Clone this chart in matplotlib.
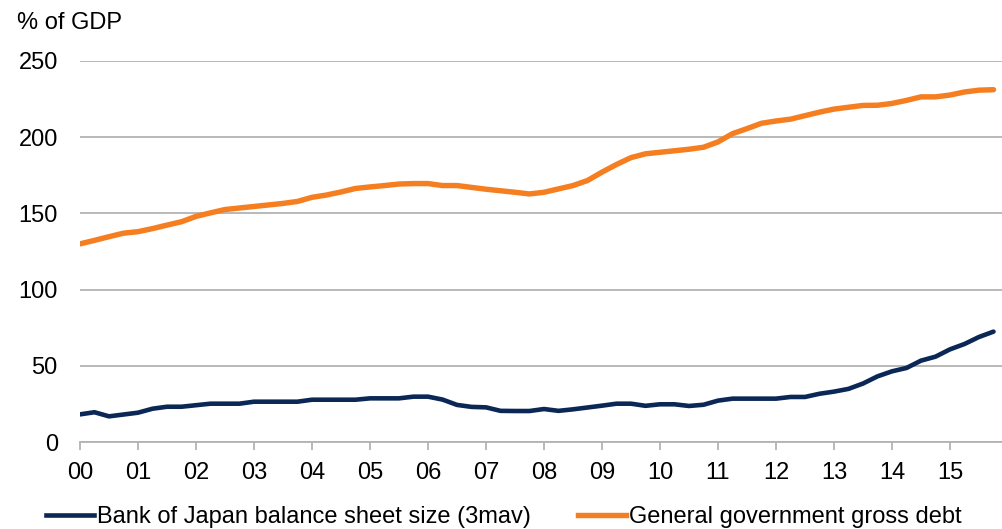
import numpy as np
import matplotlib.pyplot as plt
from matplotlib.lines import Line2D

# quarterly data, 2000Q1 - 2015Q4 (% of GDP)
quarters = np.arange(64) / 4.0

boj = [18.3, 19.7, 17.0, 18.2, 19.4, 22.0, 23.3, 23.3,
       24.3, 25.3, 25.3, 25.3, 26.6, 26.6, 26.6, 26.6,
       27.9, 27.9, 27.9, 27.9, 28.8, 28.8, 28.8, 29.9,
       29.9, 28.0, 24.5, 23.2, 22.9, 20.6, 20.5, 20.5,
       21.8, 20.6, 21.6, 22.8, 24.0, 25.3, 25.3, 23.9,
       24.9, 24.9, 23.8, 24.6, 27.3, 28.6, 28.6, 28.6,
       28.6, 29.7, 29.7, 31.8, 33.2, 35.0, 38.5, 43.2,
       46.5, 48.7, 53.5, 56.1, 60.9, 64.4, 69.0, 72.5]

debt = [130.0, 132.3, 134.7, 137.0, 138.0, 140.0, 142.3, 144.5,
        148.0, 150.3, 152.5, 153.5, 154.5, 155.5, 156.5, 157.8,
        160.5, 162.0, 164.0, 166.3, 167.3, 168.2, 169.2, 169.5,
        169.5, 168.2, 168.2, 167.0, 165.8, 164.8, 163.8, 162.7,
        163.8, 166.0, 168.2, 171.5, 177.0, 182.0, 186.5, 189.0,
        190.0, 191.0, 192.0, 193.3, 196.8, 202.2, 205.5, 209.0,
        210.5, 211.7, 214.0, 216.3, 218.3, 219.5, 220.7, 220.8,
        222.0, 224.0, 226.3, 226.3, 227.5, 229.5, 230.7, 231.0]

year_labels = ['00', '01', '02', '03', '04', '05', '06', '07',
               '08', '09', '10', '11', '12', '13', '14', '15']

series_names = ['Bank of Japan balance sheet size (3mav)',
                'General government gross debt']

navy = '#0A2756'
orange = '#F57E20'
fs = 17

plt.rcParams['font.family'] = ['Liberation Sans', 'DejaVu Sans']

fig = plt.figure(figsize=(10.02, 5.29), dpi=100)
ax = fig.add_axes([80 / 1002, 1 - 442.3 / 529, 928 / 1002, 381.6 / 529])

ax.plot(quarters, boj, color=navy, lw=3.3, solid_capstyle='round', solid_joinstyle='round')
ax.plot(quarters, debt, color=orange, lw=3.9, solid_capstyle='round', solid_joinstyle='round')

ax.set_xlim(0, 16)
ax.set_ylim(0, 250)
ax.set_yticks(range(0, 251, 50))
ax.set_xticks(range(len(year_labels)))
ax.set_xticklabels(year_labels)

ax.grid(axis='y', color='#b3b3b3', lw=1.3)
ax.set_axisbelow(True)
for s in ['top', 'right', 'left']:
    ax.spines[s].set_visible(False)
ax.spines['bottom'].set_color('#b3b3b3')
ax.spines['bottom'].set_linewidth(1.3)

ax.tick_params(axis='x', direction='out', length=5.5, width=1.3, color='#b3b3b3',
               labelsize=fs, pad=9)
ax.tick_params(axis='y', length=0, labelsize=fs, pad=16)

fig.text(17 / 1002, 1 - 23 / 529, '% of GDP', fontsize=fs, va='center', ha='left')

handles = [Line2D([], [], color=navy, lw=3.3), Line2D([], [], color=orange, lw=3.9)]
fig.legend(handles, series_names, loc='center left',
           bbox_to_anchor=(46 / 1002, 1 - 517 / 529),
           ncol=2, frameon=False, fontsize=fs, handlelength=2.05, handletextpad=0.1,
           columnspacing=2.0, borderpad=0, borderaxespad=0)

fig.savefig('out.png', dpi=100)
